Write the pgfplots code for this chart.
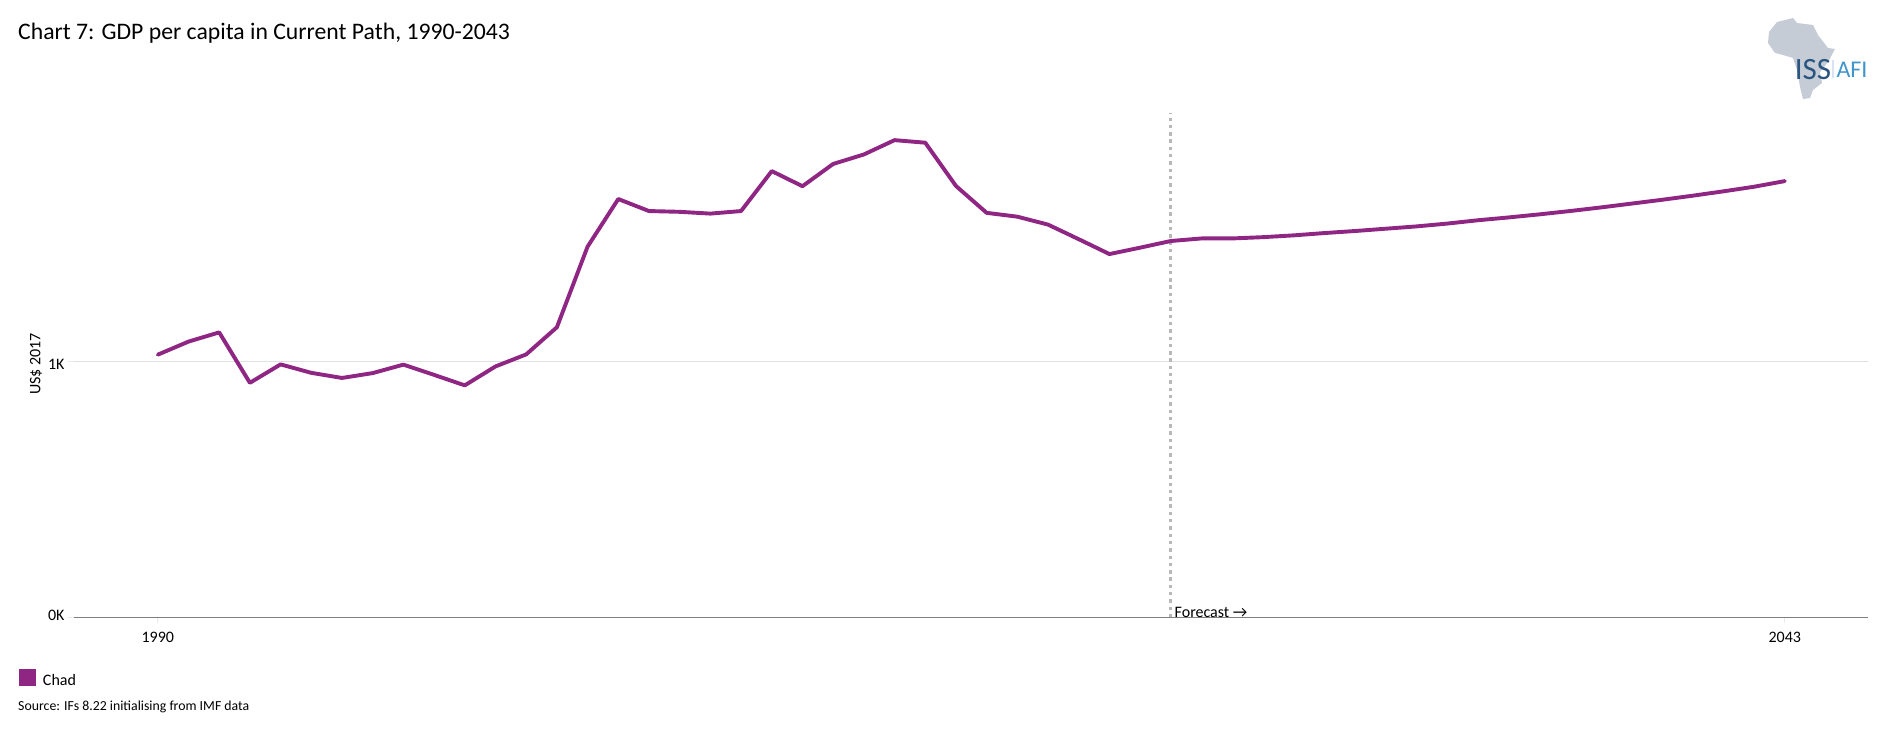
\documentclass[border=0pt]{standalone}
\usepackage{pgfplots}
\pgfplotsset{compat=1.18}
\usepackage{fontspec}
\setmainfont{Carlito}
\definecolor{chad}{HTML}{8F2683}
\definecolor{logogray}{HTML}{C5CCD6}
\definecolor{logonavy}{HTML}{2A5580}
\definecolor{logoblue}{HTML}{3F94CC}
\pgfplotstableread{
year value
1990 1.026
1991 1.077
1992 1.113
1993 0.916
1994 0.988
1995 0.955
1996 0.935
1997 0.954
1998 0.987
1999 0.947
2000 0.906
2001 0.980
2002 1.027
2003 1.133
2004 1.448
2005 1.634
2006 1.587
2007 1.584
2008 1.577
2009 1.587
2010 1.743
2011 1.684
2012 1.771
2013 1.808
2014 1.864
2015 1.854
2016 1.685
2017 1.580
2018 1.565
2019 1.534
2020 1.477
2021 1.419
2022 1.444
2023 1.470
2024 1.480
2025 1.480
2026 1.485
2027 1.492
2028 1.501
2029 1.509
2030 1.518
2031 1.527
2032 1.538
2033 1.551
2034 1.562
2035 1.574
2036 1.587
2037 1.601
2038 1.616
2039 1.631
2040 1.647
2041 1.664
2042 1.682
2043 1.704
}\chaddata
\begin{document}
\begin{tikzpicture}
\path[use as bounding box] (0pt,0pt) rectangle (1880pt,-739pt);
\begin{axis}[
  at={(74pt,-617.3pt)}, anchor=south west,
  scale only axis, width=1794pt, height=504.3pt,
  xmin=1987.27, xmax=2045.71, ymin=0, ymax=1.97,
  axis x line=bottom, axis y line=left,
  axis line style={-},
  x axis line style={draw=black!50,line width=1.4pt},
  y axis line style={draw=none},
  xtick={1990,2043}, xticklabels={1990,2043},
  ytick={0,1}, yticklabels={\raisebox{10pt}{0K},1K},
  tick style={draw=black!8,line width=0.8pt},
  major tick length=6pt,
  xtick align=outside, ytick align=outside,
  ymajorgrids, grid style={draw=black!12,line width=1pt},
  tick label style={font=\fontsize{16}{18}\selectfont,text=black},
  xticklabel style={yshift=-5pt},
  yticklabel style={xshift=0pt,yshift=-3.5pt},
  clip=false,
  legend cell align=left,
  legend style={at={(-55pt,-52pt)},anchor=north west,draw=none,fill=none,inner sep=0pt,outer sep=0pt,
    font=\fontsize{16}{18}\selectfont,
    /tikz/every even column/.append style={column sep=0pt}},
  legend image code/.code={\fill[chad,draw=none] (0pt,-8.5pt) rectangle (17pt,8.5pt);},
]
\addplot[forget plot,color=black!28,line width=3pt,dash pattern=on 3.4pt off 3.9pt] coordinates {(2023,0) (2023,1.97)};
\addplot[chad,line width=3.9pt,line join=round,line cap=round] table[x=year,y=value] {\chaddata};
\addlegendentry{\hspace{5pt}\raisebox{-6pt}{Chad}}
\end{axis}
\begin{scope}[x=1pt,y=-1pt]
\node[anchor=west,inner sep=0pt,font=\fontsize{23.7}{28}\selectfont] at (18,33) {Chart 7: GDP per capita in Current Path, 1990-2043};
\node[anchor=west,inner sep=0pt,font=\fontsize{13.8}{17}\selectfont] at (18,707) {Source: IFs 8.22 initialising from IMF data};
\node[anchor=center,inner sep=0pt,rotate=90,font=\fontsize{16}{18}\selectfont] at (36,364) {US\$ 2017};
\node[anchor=west,inner sep=0pt,font=\fontsize{16}{18}\selectfont] at (1174.5,612) {Forecast →};
% logo
\fill[logogray] (1777,22) -- (1793,18) -- (1797,23) -- (1813,25) -- (1818,35) -- (1828,48) -- (1835,49) -- (1828,62) -- (1820,72) -- (1822,83) -- (1813,90) -- (1810,98) -- (1803,99) -- (1800,87) -- (1797,70) -- (1793,58) -- (1783,55) -- (1775,53) -- (1768,43) -- (1769,32) -- cycle;
\node[anchor=center,inner sep=0pt,text=logonavy,font=\fontsize{31}{34}\selectfont] at (1813,69.5) {ISS};
\fill[green!25!blue!15!white] (1832,60) rectangle (1833.5,78);
\node[anchor=center,inner sep=0pt,text=logoblue,font=\fontsize{24}{26}\selectfont] at (1852,69.5) {AFI};
\end{scope}
\end{tikzpicture}
\end{document}
